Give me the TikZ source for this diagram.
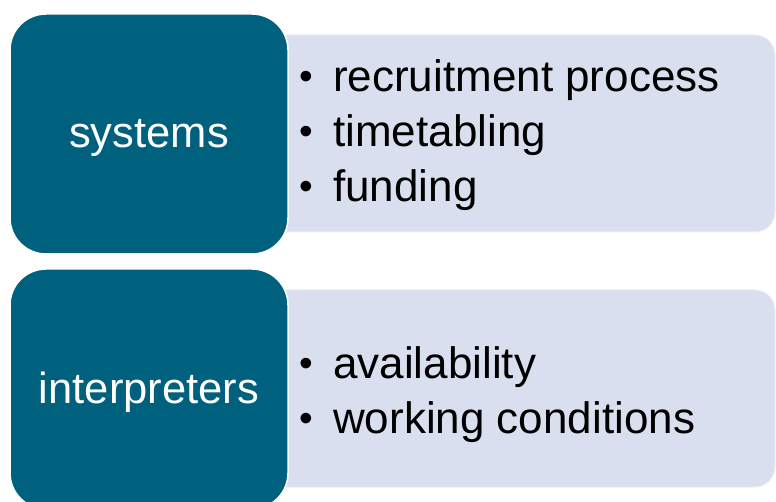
\documentclass[tikz,border=0pt]{standalone}
\usepackage{fontspec}
\setmainfont{Liberation Sans}
\definecolor{headteal}{HTML}{00617F}
\definecolor{panelblue}{HTML}{D9DFEE}
\newcommand{\bulletmark}{\makebox[35pt][l]{\hspace{1pt}\raisebox{2pt}{\fontsize{39}{39}\selectfont•}}}
\begin{document}
\begin{tikzpicture}[x=1pt,y=-1pt,
  bigfont/.style={font=\fontsize{43.5}{50}\selectfont},
  head/.style={bigfont, fill=headteal, draw=white, line width=1.5pt,
    rounded corners=36pt, text=white, minimum width=278pt,
    minimum height=240pt, text height=28pt, text depth=0pt, inner sep=0pt},
  panel/.style={fill=panelblue, draw=panelblue!50!white, line width=1pt,
    rounded corners=20pt, minimum width=525pt, minimum height=197pt},
  item/.style={font=\fontsize{44}{50}\selectfont, anchor=base west, inner sep=0pt}]
\useasboundingbox (0,0) rectangle (776,502);
\clip (0,0) rectangle (776,502);

% light panels holding the bullet lists
\node[panel] (p1) at (512.5,133.5) {};
\node[panel] (p2) at (512.5,388.5) {};

% dark heading boxes
\node[head] (h1) at (149,134) {systems};
\node[head] (h2) at (149,389) {interpreters};

% bullet lines
\node[item] (a1) at (298,92)  {\bulletmark recruitment process};
\node[item] (a2) at (298,147) {\bulletmark timetabling};
\node[item] (a3) at (298,202) {\bulletmark funding};
\node[item] (b1) at (298,378) {\bulletmark availability};
\node[item] (b2) at (298,433) {\bulletmark working conditions};
\end{tikzpicture}
\end{document}
